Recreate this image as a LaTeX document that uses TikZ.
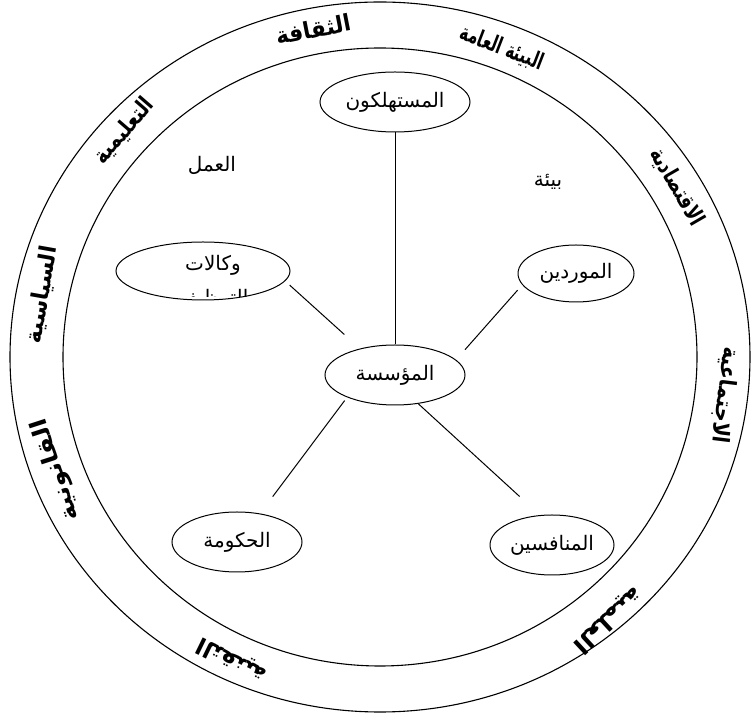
\documentclass[tikz,border=0pt]{standalone}
\usepackage{graphicx}
\usepackage{fontspec}
\newfontfamily\arabicfont[Script=Arabic]{DejaVu Sans}
\newfontfamily\arabicbold[Script=Arabic]{DejaVu Sans Bold}
\TeXXeTstate=1
\usetikzlibrary{shapes.geometric}
\tikzset{
  ent/.style={draw, ellipse, inner sep=0pt, line width=1pt, font=\arabicfont\fontsize{20}{22}\selectfont},
  conn/.style={line width=1pt},
  ringtxt/.style={inner sep=0pt, font=\arabicbold\fontsize{23}{25}\selectfont},
  plaintxt/.style={inner sep=0pt, font=\arabicfont\fontsize{20}{22}\selectfont}
}
\begin{document}
\begin{tikzpicture}[x=1pt,y=1pt]
\useasboundingbox (0,0) rectangle (753,715);
\fill[white] (0,0) rectangle (753,715);
% rings
\draw[line width=1.1pt] (380,358) ellipse [x radius=370, y radius=355];
\draw[line width=1.1pt] (380,358) ellipse [x radius=317, y radius=309];
% ring labels
\node[ringtxt, rotate=11]   (r1) at (313,686) {\scalebox{0.95}[1]{\beginR الثقافة\endR}};
\node[ringtxt, rotate=-21]  (r2) at (502,667) {\scalebox{0.66}[1]{\beginR البيئة العامة\endR}};
\node[ringtxt, rotate=-60]  (r3) at (677,528) {\scalebox{0.75}[1]{\beginR الاقتصادية\endR}};
\node[ringtxt, rotate=-97]  (r4) at (725,320) {\scalebox{0.85}[1]{\beginR الاجتماعية\endR}};
\node[ringtxt, rotate=-137] (r5) at (608,95)  {\scalebox{1.1}[1]{\beginR العلمية\endR}};
\node[ringtxt, rotate=154]  (r6) at (232,55)  {\beginR التقنية\endR};
\node[ringtxt, rotate=108]  (r7) at (56,245)  {\scalebox{1.1}[1]{\beginR القانونية\endR}};
\node[ringtxt, rotate=80]   (r8) at (42,420)  {\scalebox{0.95}[1]{\beginR السياسية\endR}};
\node[ringtxt, rotate=49]   (r9) at (124,584) {\scalebox{0.82}[1]{\beginR التعليمية\endR}};
% entities
\node[ent, minimum width=150, minimum height=60] (c) at (395,613) {\beginR المستهلكون\endR};
\node[ent, minimum width=174, minimum height=58] (w) at (203,444) {};
\node[ent, minimum width=116, minimum height=57] (s) at (576,441.5) {\beginR الموردين\endR};
\node[ent, minimum width=140, minimum height=60] (m) at (395,340) {\beginR المؤسسة\endR};
\node[ent, minimum width=130, minimum height=60] (g) at (237,173) {\beginR الحكومة\endR};
\node[ent, minimum width=124, minimum height=60] (n) at (552,170) {\beginR المنافسين\endR};
% agencies text (second line clipped)
\node[plaintxt] (w1) at (213,450) {\beginR وكالات\endR};
\begin{scope}
\clip (110,418) rectangle (300,434);
\node[plaintxt] (w2) at (213,416) {\beginR التوظيف\endR};
\end{scope}
% free labels
\node[plaintxt] (l1) at (212,550) {\beginR العمل\endR};
\node[plaintxt] (l2) at (548,533) {\beginR بيئة\endR};
% connectors
\draw[conn] (c.south) -- (m.north);
\draw[conn, shorten <=6pt, shorten >=21pt] (w.-7) -- (m.143);
\draw[conn, shorten <=7pt, shorten >=13.5pt] (s.192) -- (m.14);
\draw[conn, shorten <=4pt, shorten >=21pt] (m.205) -- (g.51.5);
\draw[conn, shorten >=27.5pt] (m.-51) -- (n.112);
\end{tikzpicture}
\end{document}
